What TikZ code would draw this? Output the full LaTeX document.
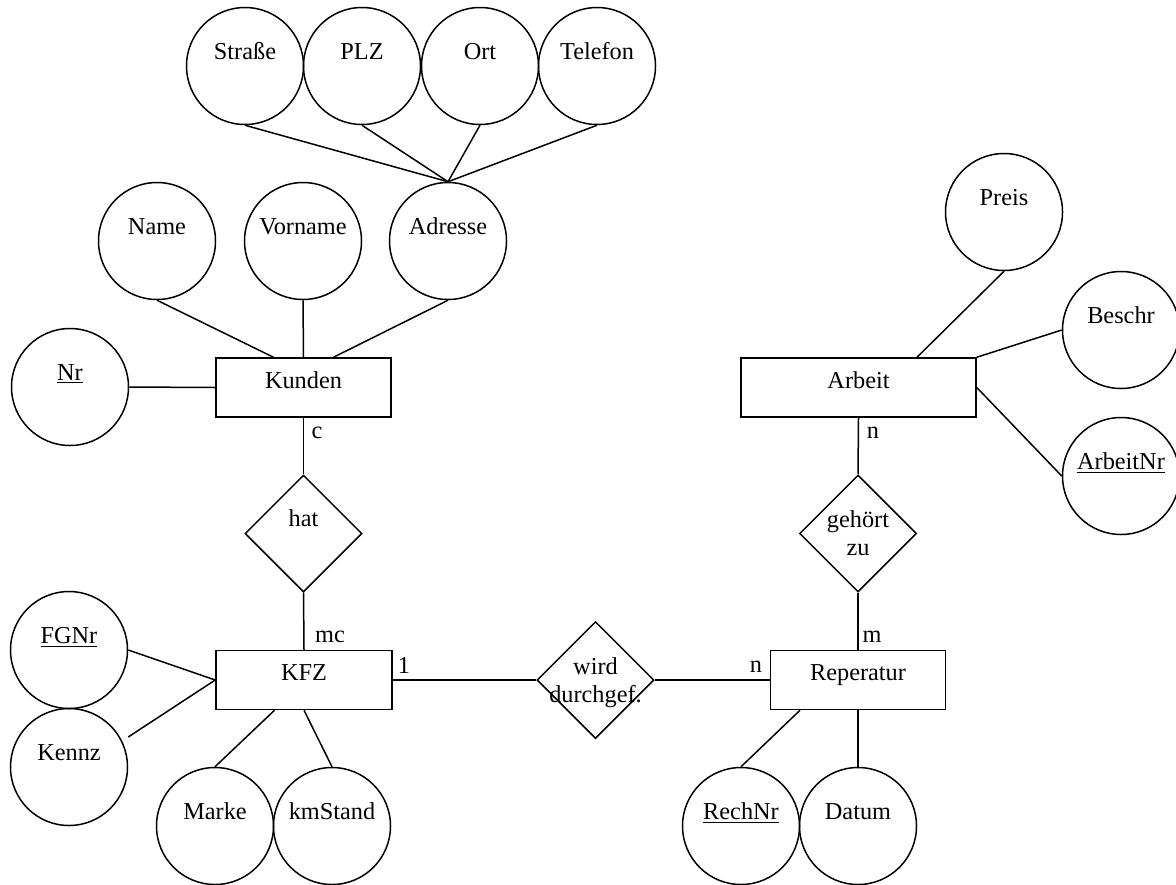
\documentclass[tikz,border=0pt]{standalone}
\usepackage{fontspec}
\setmainfont{Liberation Serif}
\usetikzlibrary{shapes.geometric}
\begin{document}
\begin{tikzpicture}[x=0.5pt,y=-0.5pt,
  every node/.style={font=\fontsize{12.15}{14}\selectfont},
  lw/.style={line width=0.75pt},
  txt/.style={inner sep=0pt, align=center, text height=8.5pt, text depth=2.5pt},
  txttwo/.style={inner sep=0pt, align=center},
  attr/.style={circle, draw, lw, minimum size=58.5pt, inner sep=0pt,
    label={[txt, yshift=6.5pt]center:#1}},
  entity/.style={rectangle, draw, lw, minimum height=29.5pt, inner sep=0pt,
    label={[txt, yshift=2.75pt]center:#1}},
  rel/.style={diamond, draw, lw, aspect=1, minimum width=58.5pt, minimum height=58.5pt, inner sep=0pt},
  conn/.style={lw},
  card/.style={inner sep=0pt}
]
\useasboundingbox (0,0) rectangle (1176,884);

% entities
\node[entity=Kunden, minimum width=87.5pt] (kunden) at (303.5,387.5) {};
\node[entity=KFZ, minimum width=88pt] (kfz) at (304,680) {};
\node[entity=Reperatur, minimum width=87.5pt] (rep) at (858,680) {};
\node[entity=Arbeit, minimum width=117.5pt] (arbeit) at (858.5,387.5) {};

% relationships
\node[rel, label={[txt, yshift=6.5pt]center:hat}] (hat) at (303.5,533.5) {};
\node[rel, label={[txttwo]center:gehört\\zu}] (gehoert) at (858,533.5) {};
\node[rel, label={[txttwo, yshift=-1.5pt]center:wird\\durchgef.}] (wird) at (595.5,680) {};

% attributes
\node[attr=Straße] (strasse) at (245,66) {};
\node[attr=PLZ] (plz) at (362,66) {};
\node[attr=Ort] (ort) at (480,66) {};
\node[attr=Telefon] (telefon) at (597,66) {};
\node[attr=Name] (name) at (157,241) {};
\node[attr=Vorname] (vorname) at (303,241) {};
\node[attr=Adresse] (adresse) at (448,241) {};
\node[attr=\underline{Nr}] (nr) at (70,387) {};
\node[attr=Preis] (preis) at (1004,212) {};
\node[attr=Beschr] (beschr) at (1121,330) {};
\node[attr=\underline{ArbeitNr}] (arbeitnr) at (1121,476) {};
\node[attr=\underline{FGNr}] (fgnr) at (69,650) {};
\node[attr=Kennz] (kennz) at (69,767) {};
\node[attr=Marke] (marke) at (215,826) {};
\node[attr=kmStand] (kmstand) at (332,826) {};
\node[attr=\underline{RechNr}] (rechnr) at (741,826) {};
\node[attr=Datum] (datum) at (858,826) {};

% address composition
\draw[conn] (strasse.south) -- (adresse.north);
\draw[conn] (plz.south) -- (adresse.north);
\draw[conn] (ort.south) -- (adresse.north);
\draw[conn] (telefon.south) -- (adresse.north);

% Kunden attributes
\draw[conn] (name.south) -- ([xshift=-15pt]kunden.north);
\draw[conn] (vorname.south) -- (kunden.north);
\draw[conn] (adresse.south) -- ([xshift=15pt]kunden.north);
\draw[conn] (nr.east) -- (kunden.west);

% Arbeit attributes
\draw[conn] (preis.south) -- ([xshift=29.25pt]arbeit.north);
\draw[conn] (beschr.west) -- (arbeit.north east);
\draw[conn] (arbeit.east) -- (arbeitnr.west);

% KFZ attributes
\draw[conn] (fgnr.east) -- (kfz.west);
\draw[conn] ([yshift=15pt]kennz.east) -- (kfz.west);
\draw[conn] (marke.north) -- ([xshift=-14.75pt]kfz.south);
\draw[conn] (kmstand.north) -- (kfz.south);

% Reperatur attributes
\draw[conn] (rechnr.north) -- ([xshift=-29pt]rep.south);
\draw[conn] (datum.north) -- (rep.south);

% relationships
\draw[conn] (kunden.south) -- (hat.north);
\draw[conn] (hat.south) -- (kfz.north);
\draw[conn] (kfz.east) -- (wird.west);
\draw[conn] (wird.east) -- (rep.west);
\draw[conn] (arbeit.south) -- (gehoert.north);
\draw[conn] (gehoert.south) -- (rep.north);

% cardinalities
\node[card] (cc) at (317,433) {c};
\node[card] (cmc) at (330,637) {mc};
\node[card] (c1) at (404,665) {1};
\node[card] (cn1) at (756,667) {n};
\node[card] (cm) at (872,637) {m};
\node[card] (cn2) at (873,433) {n};
\end{tikzpicture}
\end{document}
